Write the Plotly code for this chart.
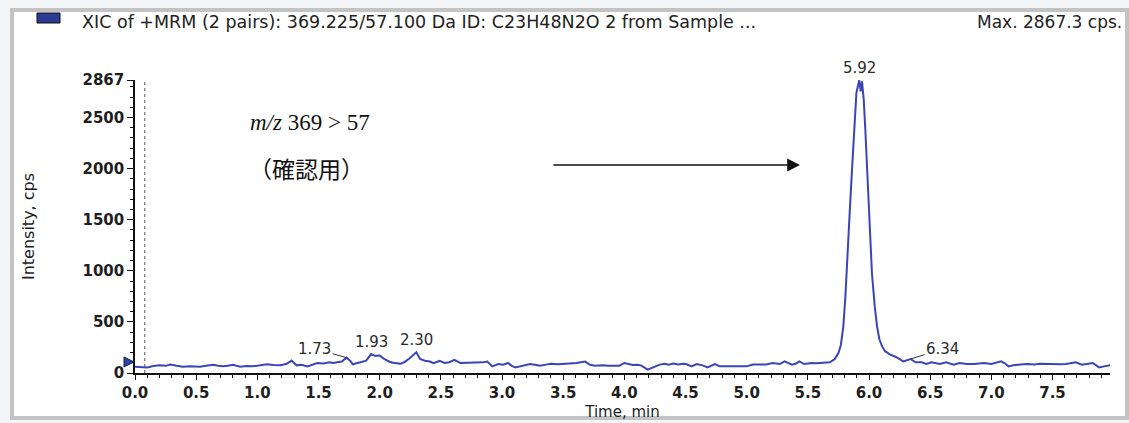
import plotly.graph_objects as go

# Retention time (min) and intensity (cps) of the XIC trace
time_min = [
    0.00, 0.05, 0.10, 0.15, 0.20, 0.25, 0.29, 0.34, 0.39, 0.45, 0.53, 0.58, 0.64, 0.68,
    0.72, 0.76, 0.80, 0.86, 0.91, 0.96, 1.02, 1.08, 1.13, 1.19, 1.24, 1.28, 1.32, 1.36,
    1.41, 1.45, 1.49, 1.54, 1.59, 1.62, 1.65, 1.69, 1.73, 1.76, 1.78, 1.82, 1.86, 1.89,
    1.93, 1.96, 2.00, 2.04, 2.08, 2.11, 2.17, 2.20, 2.24, 2.27, 2.30, 2.33, 2.37, 2.41,
    2.44, 2.49, 2.53, 2.57, 2.61, 2.66, 2.70, 2.74, 2.80, 2.84, 2.88, 2.92, 2.97, 3.01,
    3.05, 3.08, 3.11, 3.17, 3.23, 3.27, 3.31, 3.36, 3.40, 3.46, 3.53, 3.57, 3.61, 3.68,
    3.72, 3.76, 3.82, 3.87, 3.92, 3.96, 4.00, 4.04, 4.07, 4.11, 4.14, 4.19, 4.23, 4.29,
    4.33, 4.36, 4.40, 4.44, 4.48, 4.51, 4.55, 4.59, 4.64, 4.68, 4.74, 4.78, 4.84, 4.90,
    4.96, 5.00, 5.05, 5.10, 5.16, 5.21, 5.27, 5.31, 5.37, 5.40, 5.43, 5.47, 5.53, 5.57,
    5.60, 5.64, 5.68, 5.72, 5.75, 5.77, 5.79, 5.807, 5.826, 5.842, 5.861, 5.88, 5.897,
    5.92, 5.932, 5.943, 5.957, 5.97, 5.989, 6.006, 6.024, 6.047, 6.066, 6.085, 6.107,
    6.13, 6.17, 6.22, 6.28, 6.34, 6.38, 6.43, 6.47, 6.51, 6.55, 6.58, 6.63, 6.69, 6.74,
    6.80, 6.86, 6.90, 6.94, 7.00, 7.04, 7.08, 7.11, 7.14, 7.18, 7.22, 7.26, 7.30, 7.35,
    7.40, 7.47, 7.52, 7.57, 7.61, 7.65, 7.69, 7.74, 7.78, 7.83, 7.88, 7.92, 7.95, 7.97,
]
intensity_cps = [
    62, 58, 55, 68, 75, 70, 82, 70, 62, 66, 62, 72, 80, 70,
    65, 72, 80, 62, 68, 65, 72, 85, 78, 75, 90, 121, 75, 80,
    65, 82, 98, 92, 105, 98, 105, 112, 150, 118, 85, 98, 110, 121,
    185, 168, 170, 135, 110, 100, 90, 105, 140, 175, 203, 137, 120, 112,
    96, 118, 98, 105, 128, 98, 100, 104, 100, 104, 112, 65, 88, 82,
    98, 70, 55, 72, 88, 80, 72, 82, 90, 86, 90, 92, 98, 112,
    80, 72, 75, 70, 74, 72, 98, 85, 78, 80, 72, 33, 55, 82,
    90, 80, 92, 84, 90, 85, 65, 88, 75, 55, 88, 65, 66, 64,
    66, 65, 82, 80, 84, 98, 88, 114, 82, 90, 114, 88, 98, 95,
    98, 100, 104, 137, 196, 274, 454, 747, 1139, 1564, 1988, 2380, 2740,
    2867, 2755, 2853, 2674, 2380, 1825, 1368, 976, 649, 454, 330, 260,
    215, 182, 157, 114, 137, 104, 104, 88, 104, 95, 88, 104, 82, 98,
    88, 88, 95, 98, 88, 100, 114, 95, 65, 75, 82, 86, 88, 84,
    90, 88, 82, 86, 88, 95, 104, 82, 90, 98, 55, 68, 72, 75,
]

# Labelled retention times
peak_labels = ["1.73", "1.93", "2.30", "5.92", "6.34"]
peak_times = [1.73, 1.93, 2.30, 5.92, 6.34]

# Axis ticks
y_tick_values = [0, 500, 1000, 1500, 2000, 2500, 2867]
y_max = 2867
x_max = 7.97
threshold_level = [108]
marker_line_time = 0.08

title_text = "XIC of +MRM (2 pairs): 369.225/57.100 Da ID: C23H48N2O 2 from Sample ..."
max_text = "Max. 2867.3 cps."

W, H = 1129, 423
ML, MR, MT, MB = 135, 19, 80, 50
PW, PH = W - ML - MR, H - MT - MB


def px(xp):
    return (xp - ML) / PW


def py(yp):
    return (H - MB - yp) / PH


trace_color = "#3a45b8"
tick_font = dict(family="DejaVu Sans", size=15, color="#1e1e1e", weight="bold")

fig = go.Figure()
fig.add_trace(go.Scatter(
    x=time_min, y=intensity_cps, mode="lines",
    line=dict(color=trace_color, width=2),
    showlegend=False, hoverinfo="skip",
))

# threshold indicator: small right-pointing triangle left of the intensity axis
thr = threshold_level[0]
half = 5 * y_max / PH  # half height of the triangle in data units
tri_path = "M {a},{b} L {a},{c} L {d},{e} Z".format(
    a=px(124), b=thr - half, c=thr + half, d=px(134), e=thr)

shapes = [
    # outer frame
    dict(type="rect", xref="paper", yref="paper", layer="below",
         x0=px(12), x1=px(1127), y0=py(418), y1=py(10),
         line=dict(color="#c3c3c3", width=4), fillcolor="white"),
    # legend swatch
    dict(type="rect", xref="paper", yref="paper",
         x0=px(37), x1=px(60), y0=py(23), y1=py(13),
         line=dict(color="#111111", width=1), fillcolor="#2b3a92"),
    # dotted start marker
    dict(type="line", xref="x", yref="paper", x0=marker_line_time, x1=marker_line_time,
         y0=0, y1=1, line=dict(color="#555555", width=1, dash="dot")),
    dict(type="path", xref="paper", yref="y", path=tri_path,
         fillcolor="#2f40a8", line=dict(color="#1a1a40", width=1)),
]

lookup = dict(zip(time_min, intensity_cps))
annotations = [
    dict(xref="paper", yref="paper", x=px(80), y=py(22), xanchor="left", yanchor="middle",
         text=title_text, showarrow=False,
         font=dict(family="DejaVu Sans", size=17.5, color="#222222")),
    dict(xref="paper", yref="paper", x=px(1124), y=py(22), xanchor="right", yanchor="middle",
         text=max_text, showarrow=False,
         font=dict(family="DejaVu Sans", size=17, color="#222222")),
    dict(xref="paper", yref="paper", x=px(310), y=py(123), xanchor="center", yanchor="middle",
         text="<i>m/z</i> 369 &gt; 57", showarrow=False,
         font=dict(family="Liberation Serif", size=23, color="#111111")),
    dict(xref="paper", yref="paper", x=px(306), y=py(168), xanchor="center", yanchor="middle",
         text="（確認用）", showarrow=False,
         font=dict(family="Noto Sans CJK JP", size=23, color="#111111")),
    dict(xref="paper", yref="paper", x=px(800), y=py(165), ax=-248, ay=0, text="",
         showarrow=True, arrowhead=2, arrowsize=1.6, arrowwidth=1.6, arrowcolor="#111111"),
]

label_font = dict(family="DejaVu Sans", size=15, color="#2a2a2a")
leaders = {"1.73": (-32, -9), "6.34": (32, -10)}
for lab, t in zip(peak_labels, peak_times):
    v = lookup[t]
    if lab in leaders:
        ax, ay = leaders[lab]
        annotations.append(dict(x=t, y=v, xref="x", yref="y", text=lab, showarrow=True,
                                ax=ax, ay=ay, arrowhead=0, arrowwidth=1,
                                arrowcolor="#333333", font=label_font))
    else:
        annotations.append(dict(x=t, y=v, xref="x", yref="y", text=lab, showarrow=False,
                                yanchor="bottom", yshift=1, font=label_font))

fig.update_layout(
    width=W, height=H, autosize=False,
    margin=dict(l=ML, r=MR, t=MT, b=MB, pad=0, autoexpand=False),
    paper_bgcolor="#f3f6f9", plot_bgcolor="white",
    shapes=shapes, annotations=annotations,
    xaxis=dict(
        range=[0, x_max], tickmode="linear", tick0=0, dtick=0.5, tickformat=".1f",
        automargin=False,
        showline=True, linecolor="#111111", linewidth=1.5, mirror=False,
        ticks="outside", ticklen=5, tickwidth=1.2, tickcolor="#111111",
        minor=dict(tickmode="linear", tick0=0, dtick=0.1, ticks="outside",
                   ticklen=3, tickcolor="#111111"),
        showgrid=False, zeroline=False, tickfont=tick_font,
        title=dict(text="Time, min", standoff=6,
                   font=dict(family="DejaVu Sans", size=15, color="#1e1e1e")),
    ),
    yaxis=dict(
        range=[0, y_max], tickmode="array", tickvals=y_tick_values,
        automargin=False,
        showline=True, linecolor="#111111", linewidth=1.5,
        ticks="outside", ticklen=6, tickwidth=1.2, tickcolor="#111111",
        minor=dict(tickmode="linear", tick0=0, dtick=100, ticks="outside",
                   ticklen=3, tickcolor="#111111"),
        showgrid=False, zeroline=False, tickfont=tick_font,
        title=dict(text="Intensity, cps", standoff=44,
                   font=dict(family="DejaVu Sans", size=16, color="#1e1e1e")),
    ),
)

fig.write_html("out.html")
